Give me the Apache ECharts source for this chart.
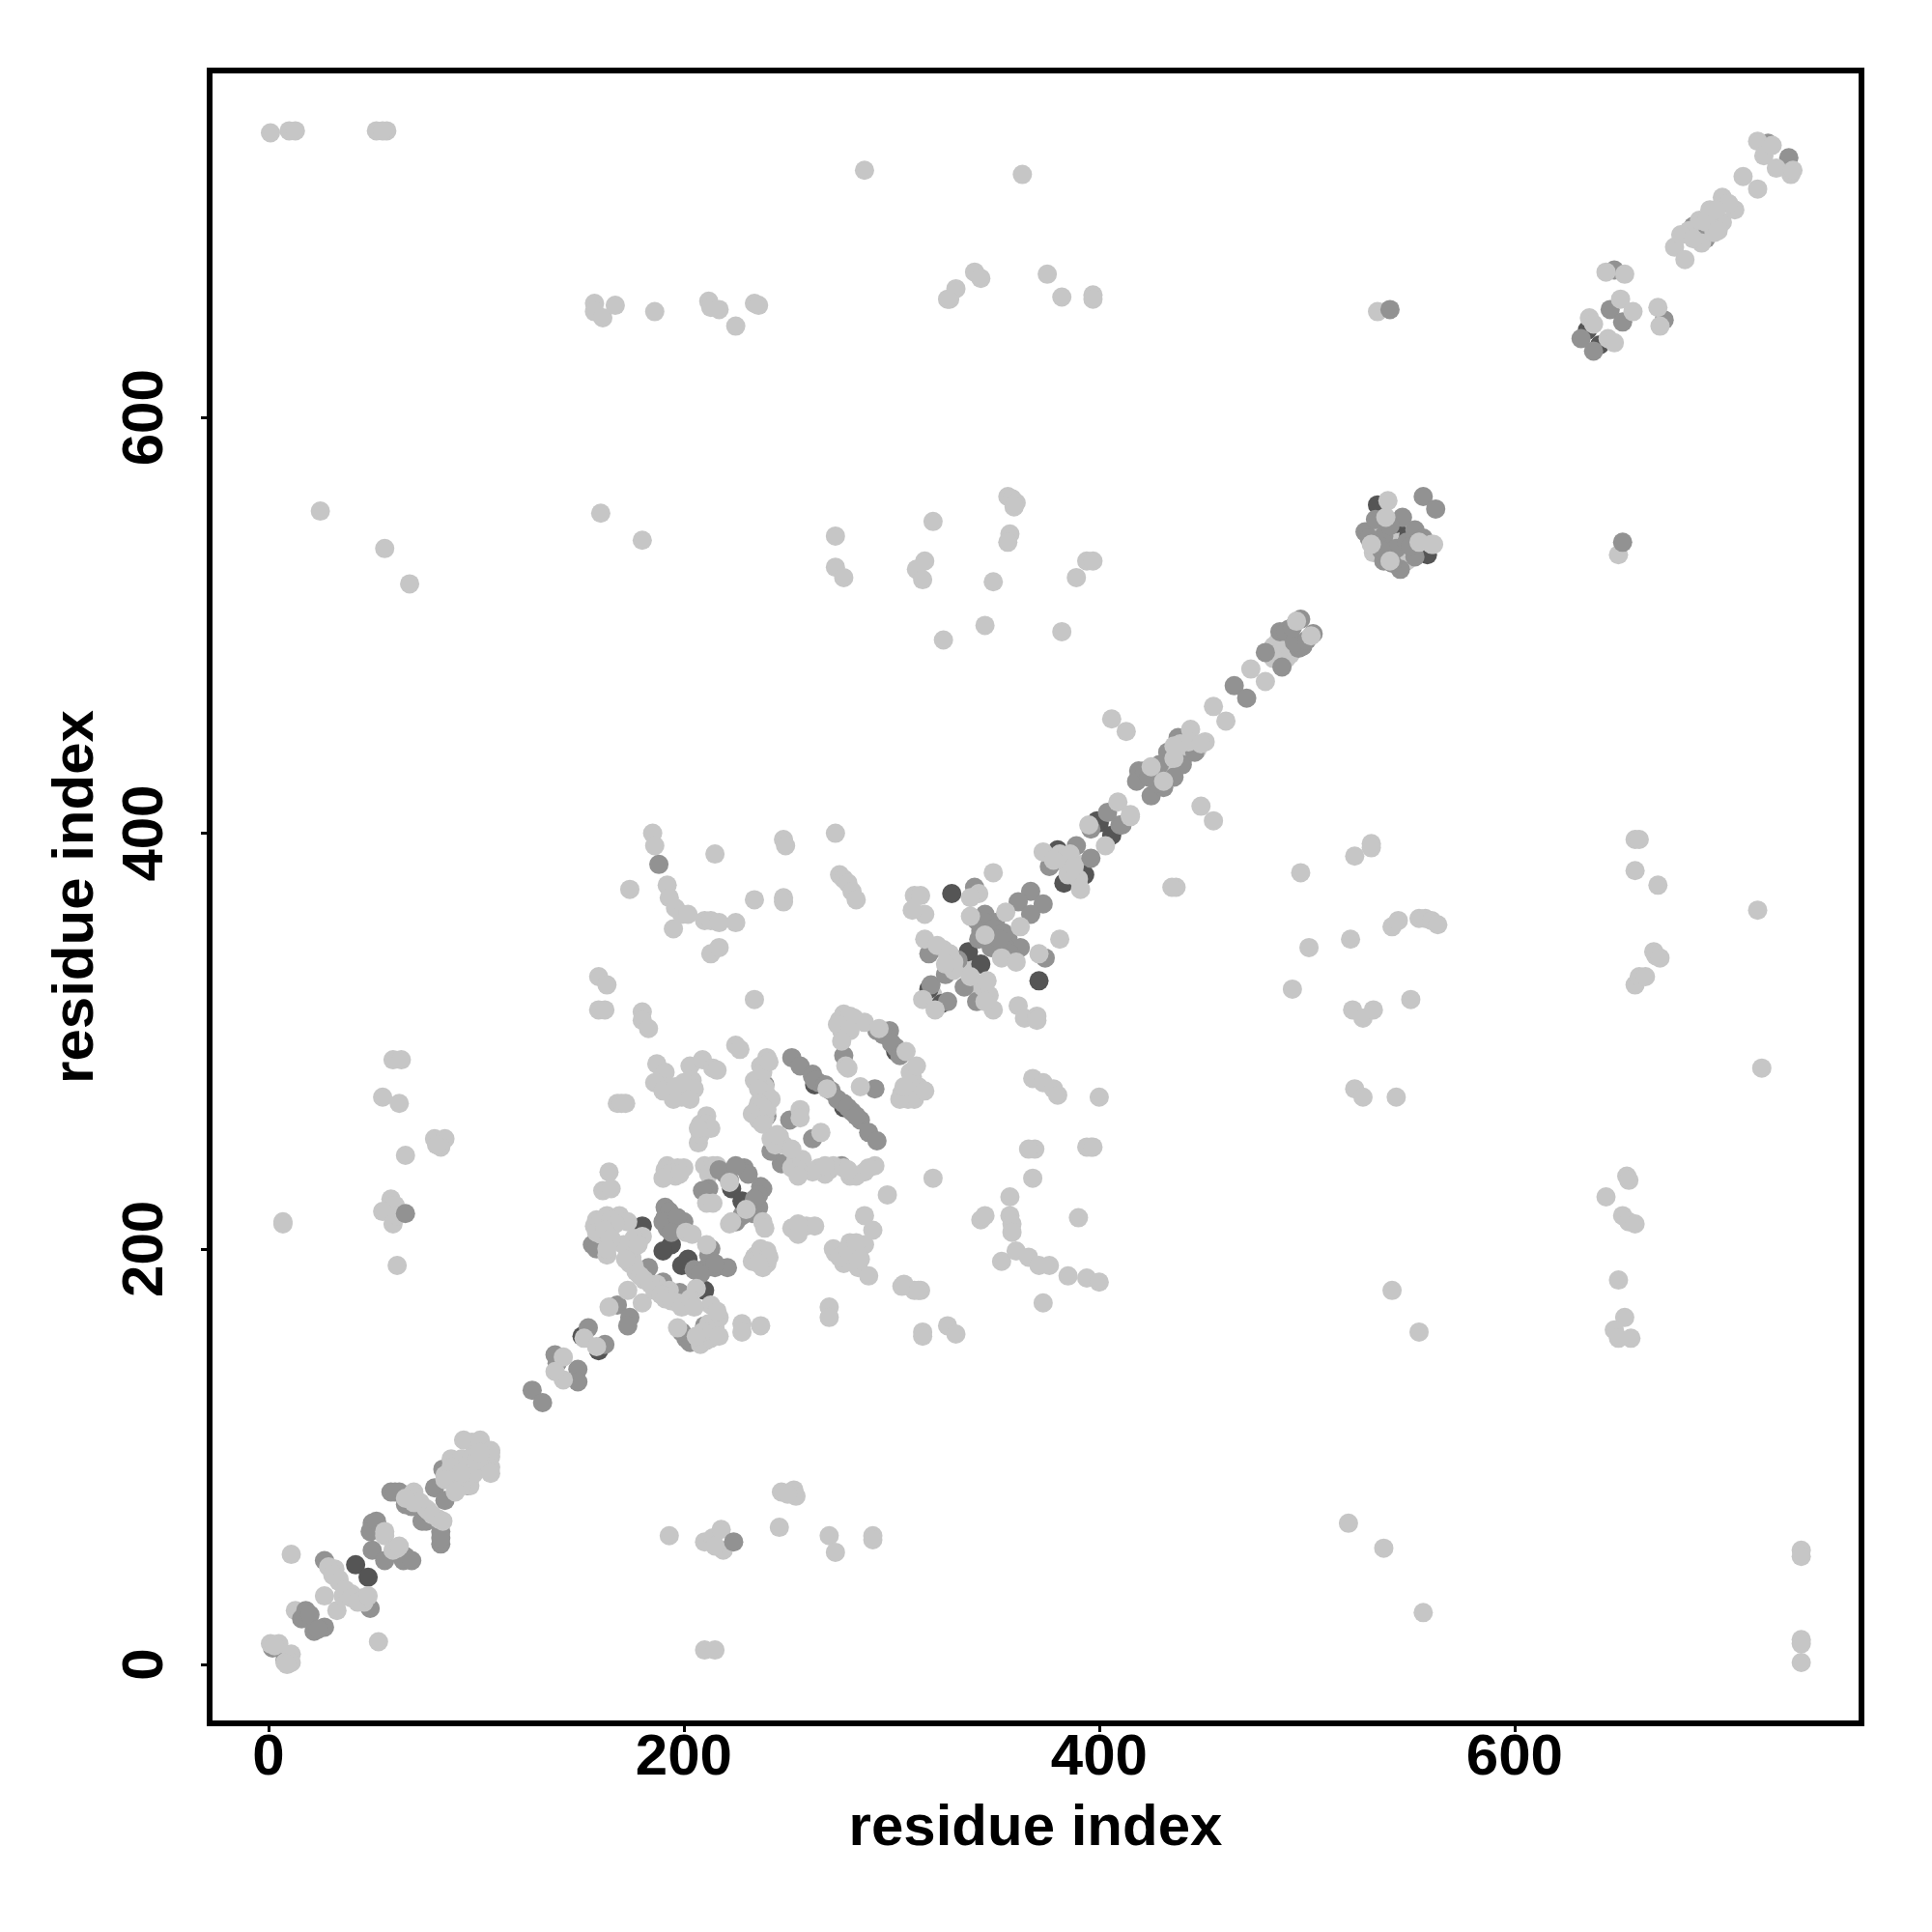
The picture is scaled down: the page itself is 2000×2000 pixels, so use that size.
<!DOCTYPE html>
<html><head><meta charset="utf-8">
<style>html,body{margin:0;padding:0;background:#fff}#c{width:2000px;height:2000px}</style>
<script src="https://cdn.jsdelivr.net/npm/echarts@6/dist/echarts.min.js"></script></head>
<body><div id="c"></div>
<script>
const tickValues = [0,200,400,600];
const axisTitle = "residue index";
const lightPoints = [
[1,737],[10,738],[13,738],[52,738],[57,738],[55,738],[287,719],[363,717],[157,655],[157,651],[161,648],[167,654],[186,651],[212,656],[213,653],[217,652],[225,644],[234,655],[236,654],
[328,657],[331,662],[327,657],[340,670],[343,667],[375,669],[382,658],[397,659],[397,657],[534,651],
[25,555],[56,537],[68,520],[160,554],[180,541],[273,543],[273,528],[277,523],[320,550],[312,527],[316,531],[315,522],[325,493],[345,500],[349,521],[357,544],[356,540],[356,562],[358,561],[360,559],[359,557],[389,523],[394,531],[397,531],[382,497],[650,534],
[406,455],[413,449],[449,413],[455,406],[437,374],[435,374],[497,381],[501,345],[493,325],[521,349],[523,389],[531,395],[531,393],[541,355],[544,358],[554,359],[557,359],[560,358],[563,356],[550,320],[522,315],[527,311],[532,315],[523,277],[527,273],[543,273],
[658,397],[660,397],[658,382],[669,375],[717,363],[719,287],[667,343],[668,341],[670,340],[658,327],[660,331],[663,331],[644,225],[654,235],[655,233],[652,216],[655,213],[658,212],[650,185],[653,167],[648,161],[650,157],[656,157],
[541,180],[554,160],[520,68],[537,56],[556,25],[738,55],[738,52],[738,12],[738,10],[738,1],
[193,62],[210,59],[214,61],[218,65],[219,55],[215,57],[246,66],[247,83],[253,84],[254,81],[250,82],[270,62],[273,54],[291,62],[291,60],[210,7],[215,7],[11,53],[53,11],
[7,213],[7,212],[55,273],[63,270],[60,291],[64,291],[66,245],[80,253],[85,253],[83,249],[81,250],[59,224],[61,221],[55,218],[60,212],[62,216],[62,192],
[185,400],[186,394],[174,373],[192,375],[193,369],[196,364],[199,361],[202,361],[195,354],[210,358],[213,358],[217,357],[225,357],[215,390],[248,397],[249,394],[248,369],[248,367],[234,368],[273,400],[275,380],[277,378],[279,376],[281,372],[283,368],[213,342],[217,345],
[159,331],[163,327],[159,315],[162,315],[180,314],[180,310],[183,306],[234,320],[225,298],[227,296],
[187,289],[191,285],[193,278],[197,274],[199,273],[203,288],[204,281],[201,276],[209,291],[214,287],[216,286],[168,270],[170,270],[172,270],[211,264],[208,260],[211,260],[207,251],[208,255],
[164,237],[161,228],[165,229],[192,240],[197,239],[200,239],[196,235],[191,238],[210,240],[214,240],[212,236],
[252,210],[255,207],[259,211],[263,211],[255,212],[235,197],[240,199],[240,193],[238,191],[234,196],[287,216],[291,209],[287,202],[280,203],[273,198],[277,193],[284,191],[289,187],[298,226],[306,183],[311,180],[314,180],[270,172],[270,167],[228,164],[228,160],[237,163],
[311,370],[314,370],[316,361],[310,363],[349,381],[381,349],[361,317],[364,311],[370,312],[370,310],[369,248],[366,248],[396,249],[394,249],[397,249],[368,282],[373,280],[378,277],[380,274],[400,273],[320,234],[368,234],[357,225],
[343,214],[345,216],[390,215],[357,216],[358,212],[358,208],[353,194],[360,199],[366,196],[371,192],[376,192],[385,187],[394,186],[400,184],[373,174],[305,182],[313,180],[315,160],[315,158],[327,163],[331,159],
[13,26],[320,322],
[272,200],[275,196],[279,200],[283,203],[285,195],[186,280],[190,276],[195,272],[196,278],[200,280],[205,277],[203,272],[213,258],[207,258],[216,240],[193,236],[198,236],[190,234],[233,194],[237,200],[241,196],[236,193],
[535,548],[532,535],[548,531],[544,534],[541,543],[484,490],[490,484],[486,492],[492,486],[484,484],[428,430],[434,428],[441,437],[447,440],[325,344],[335,338],[342,323],[383,386],[388,380],[392,385]
];
const darkPoints = [
[42,48],[48,42],[151,158],[159,151],[194,202],[202,195],[199,192],[223,229],[228,223],[329,371],[337,343],[343,337],[371,329],[393,380],[400,405],[406,399],[399,406],[380,392],[383,376],[318,325],[324,318],[534,558],[543,549],[549,543],[558,534],[635,642],[641,635],[180,211],[190,199],[210,180],
[298,303],[302,295],[263,279],[277,268]
];
const midPoints = [
[540,652],[652,540],[66,217],[188,385],[224,59],[2,8],[8,2],[18,26],[16,22],[22,16],[27,18],[27,50],[49,27],[50,68],[53,66],[50,55],[56,50],[66,52],[65,50],[59,83],[63,83],[61,83],[69,76],[76,69],[83,64],[83,58],[83,61],[80,85],[85,79],[84,94],[96,86],[127,132],[132,126],[138,149],[139,145],[149,142],[149,136],[154,162],[162,154],
[66,77],[74,69],[51,66],[49,64],[52,69],[69,50],[20,24],[24,17],
[220,236],[229,239],[231,236],[237,230],[238,229],[236,220],[212,229],[168,173],[174,167],[173,163],[201,157],[203,155],[199,160],[210,163],[156,202],[161,202],[183,191],[190,184],[198,179],[191,220],[191,215],[192,210],[200,213],[213,200],[211,191],[215,191],[221,191],
[239,279],[240,264],[252,292],[256,288],[262,284],[265,280],[277,270],[281,266],[285,262],[289,256],[293,252],[277,293],[292,277],[299,305],[302,297],[251,262],[262,253],[247,241],[242,247],[276,240],[262,283],
[209,228],[217,238],[222,233],[225,240],[236,226],[234,224],[233,217],[225,213],[228,216],[193,218],[190,213],[197,215],[194,208],[212,197],[215,193],[205,190],[208,188],[159,205],[158,200],[263,281],[268,279],[271,276],[274,272],[279,268],[283,264],[293,305],[296,303],[300,299],[304,293],
[340,374],[318,342],[332,339],[319,327],[327,319],[341,319],[335,326],[326,332],[345,361],[341,358],[350,357],[356,350],[362,345],[359,340],[352,344],[367,372],[361,367],[373,366],[367,361],[374,340],[376,384],[389,394],[396,388],[404,410],[396,402],[410,404],[411,404],
[345,357],[343,353],[347,349],[349,354],[355,345],[357,342],[354,352],[342,349],[348,345],[352,349],
[419,430],[418,425],[425,418],[431,422],[433,439],[440,433],[438,446],[446,439],[465,471],[471,465],[480,487],[488,480],[487,497],[491,498],[497,503],[496,489],[498,490],[503,496],
[422,430],[428,424],[424,427],[429,433],[436,427],[490,497],[494,492],[500,493],[493,499],
[528,545],[533,551],[537,543],[534,539],[543,537],[552,546],[546,552],[556,562],[562,556],[545,527],[552,533],[537,531],[632,638],[638,632],[646,652],[652,646],[648,671],[672,647],[686,692],[692,686],[722,732],[732,725],
[530,542],[540,548],[548,540],[541,530],[536,536],[550,538],[556,542]
];
const lightTopPoints = [
[1,10],[5,10],[11,5],[8,1],[11,1],[3,9],[9,0],[27,33],[33,26],[32,46],[34,41],[40,34],[45,32],[46,30],[36,33],[56,62],[62,56],[70,83],[71,78],[77,74],[82,70],[85,91],[91,98],[98,107],[101,107],[107,100],[107,95],[98,91],[91,85],[107,102],[142,148],[142,137],[138,141],[152,157],[158,153],
[88,99],[93,99],[88,95],[96,89],[97,86],[85,89],[93,86],[99,92],[90,83],[94,108],[102,108],[107,103],[107,92],[98,100],[100,98],[93,92],[102,102],[29,47],[31,43],[34,40],[37,36],[40,32],[43,30],[48,33],[70,81],[73,78],[76,75],[70,78],[66,80],[79,72],[84,69],[56,64],[60,55],[63,57],
[222,232],[211,222],[214,222],[222,212],[223,213],[230,219],[238,213],[239,210],[157,211],[163,216],[169,216],[173,213],[160,207],[163,197],[180,206],[173,198],[174,193],[177,189],[187,183],[193,180],[197,174],[201,174],[206,181],[173,180],[180,174],[164,172],[197,162],[211,156],[215,162],[217,167],[213,173],[208,154],[201,208],[204,207],[211,202],
[175,196],[176,192],[179,187],[181,185],[184,183],[186,180],[189,178],[191,176],[194,175],[199,172],[203,176],[205,172],[171,202],[172,195],[176,205],[178,202],[158,214],[160,213],[165,214],[167,212],[158,208],[162,209],[165,205],[163,200],[212,164],[214,160],[213,157],[216,170],[209,160],[206,158],[217,158],
[240,292],[237,288],[234,281],[239,278],[240,274],[235,267],[240,267],[239,263],[269,277],[278,288],[279,287],[285,278],[277,313],[276,305],[282,311],[287,309],[294,306],[307,295],[310,283],[305,275],[313,278],[310,275],[256,267],[256,263],[266,256],[242,253],[246,254],[254,243],[252,239],[265,239],[270,238],[277,239],[280,235],[287,237],[292,240],
[238,285],[236,277],[242,272],[236,270],[238,268],[233,265],[236,262],[238,260],[241,290],[309,280],[311,272],[308,272],[304,272],[306,278],[316,276],[309,285],[312,288],[275,310],[278,308],[280,312],[274,308],[280,305],[276,300],[268,236],[272,240],[262,237],[268,240],[283,235],[279,238],[289,239],[248,250],[244,250],[245,255],[257,243],[255,238],[252,248],[255,235],
[342,371],[338,369],[338,360],[316,349],[322,346],[328,342],[330,334],[315,320],[321,315],[349,315],[344,326],[347,322],[345,351],[355,362],[362,355],[353,340],[360,338],[371,342],[373,391],[381,390],[386,384],[391,373],[395,404],[403,394],[415,408],[409,415],[415,409],
[330,338],[338,331],[326,337],[345,319],[346,329],[386,390],[378,387],[390,378],[385,380],[388,384],
[425,432],[431,425],[444,450],[451,444],[439,443],[455,461],[461,454],[473,479],[480,473],[495,502],[502,495],[539,560],[538,552],[531,539],[540,531],[560,539],[561,539],[554,540],
[436,436],[443,444],[436,442],[449,443],
[636,648],[638,645],[645,638],[648,636],[651,657],[657,651],[644,670],[653,669],[669,653],[670,644],[677,682],[682,676],[684,690],[690,684],[689,695],[696,689],[694,700],[700,694],[700,706],[706,700],[710,716],[717,710],[717,733],[720,726],[726,720],[733,717],[734,719],[724,731],
[680,688],[686,686],[692,694],[698,690],[703,703],[697,700]
];
const layers = [
  {name:"light", data:lightPoints, color:"#c6c6c6"},
  {name:"dark", data:darkPoints, color:"#555555"},
  {name:"mid", data:midPoints, color:"#929292"},
  {name:"lightTop", data:lightTopPoints, color:"#c6c6c6"}
];
const font = '"Liberation Sans"';
const makeAxis = (extra) => Object.assign({
  type:"value", min:-28.3, max:767, name:axisTitle, nameLocation:"middle",
  nameTextStyle:{fontFamily:font,fontWeight:"bold",fontSize:60,color:"#000"},
  splitLine:{show:false}, axisLine:{show:false,onZero:false},
}, extra);
const chart = echarts.init(document.getElementById("c"),null,{renderer:"canvas"});
chart.setOption({
  animation:false, backgroundColor:"#fff",
  grid:{left:217,right:73,top:73,bottom:216,show:true,borderColor:"#000",borderWidth:6,backgroundColor:"#fff"},
  xAxis:makeAxis({nameGap:79,
    axisTick:{show:true,length:9,lineStyle:{color:"#000",width:3},customValues:tickValues},
    axisLabel:{fontFamily:font,fontWeight:"bold",fontSize:60,color:"#000",margin:6,customValues:tickValues,hideOverlap:false}}),
  yAxis:makeAxis({nameGap:108,
    axisTick:{show:true,length:9,lineStyle:{color:"#000",width:3},customValues:tickValues},
    axisLabel:{fontFamily:font,fontWeight:"bold",fontSize:60,color:"#000",margin:36,rotate:90,customValues:tickValues,hideOverlap:false}}),
  series:layers.map((l,i)=>({type:"scatter",name:l.name,data:l.data,symbol:"circle",symbolSize:20,z:2+i,
    itemStyle:{color:l.color,opacity:1},emphasis:{disabled:true},clip:false,large:false}))
});
</script></body></html>
